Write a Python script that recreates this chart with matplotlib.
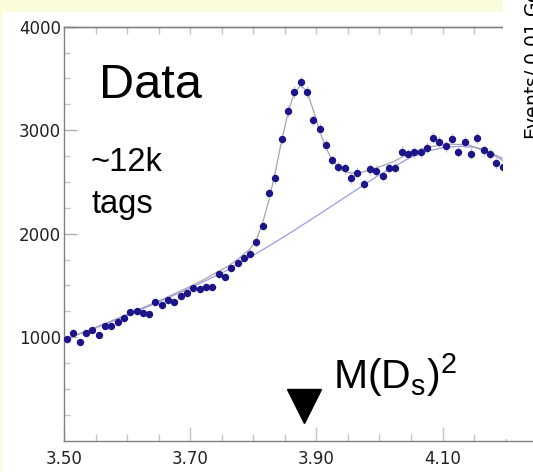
import matplotlib.pyplot as plt
import numpy as np
from matplotlib.patches import Rectangle

# binned M(Ds)^2 spectrum, 0.01 GeV^2 bins starting at 3.50
mass_lo = 3.50
bin_width = 0.01
counts = [980, 1043, 954, 1038, 1070, 1024, 1108, 1111, 1144, 1186,
          1240, 1250, 1231, 1221, 1340, 1308, 1362, 1343, 1401, 1427,
          1472, 1463, 1488, 1485, 1608, 1585, 1669, 1720, 1768, 1807,
          1917, 2077, 2396, 2535, 2918, 3183, 3369, 3466, 3366, 3096,
          3014, 2860, 2712, 2647, 2632, 2535, 2589, 2480, 2622, 2609,
          2560, 2638, 2638, 2792, 2770, 2786, 2789, 2831, 2928, 2886,
          2847, 2918, 2792, 2886, 2773, 2925, 2806, 2773, 2680, 2647]

# total fit (signal + background)
fit_mass = [3.50, 3.55, 3.60, 3.65, 3.70, 3.72, 3.74, 3.76, 3.78, 3.795,
            3.805, 3.815, 3.825, 3.835, 3.845, 3.855, 3.865, 3.875, 3.885,
            3.895, 3.905, 3.915, 3.925, 3.935, 3.945, 3.955, 3.97, 3.99,
            4.02, 4.05, 4.08, 4.11, 4.14, 4.17, 4.20]
fit_total = [975, 1095, 1220, 1350, 1490, 1550, 1620, 1685, 1775, 1855,
             1940, 2110, 2330, 2600, 2900, 3170, 3360, 3435, 3375,
             3195, 2995, 2830, 2710, 2640, 2600, 2585, 2590, 2625,
             2690, 2785, 2840, 2865, 2860, 2800, 2715]

# background component
bkg_mass = [3.50, 3.55, 3.60, 3.65, 3.70, 3.75, 3.80, 3.85, 3.90, 3.95,
            4.00, 4.05, 4.075, 4.10, 4.125, 4.15, 4.175, 4.20]
bkg = [975, 1090, 1210, 1340, 1475, 1620, 1790, 1975, 2170, 2370,
       2570, 2740, 2795, 2830, 2845, 2835, 2780, 2690]

xtick_vals = [3.50, 3.70, 3.90, 4.10]
xtick_labels = ['3.50', '3.70', '3.90', '4.10']
ytick_vals = [1000, 2000, 3000, 4000]
ytick_labels = ['1000', '2000', '3000', '4000']

ds_mass = 3.88

centers = mass_lo + bin_width * (np.arange(len(counts)) + 0.5)
counts = np.array(counts)

W, H = 533, 472
def fx(px):
    return px / W
def fy(py):
    return 1 - py / H

fig = plt.figure(figsize=(W / 100, H / 100), dpi=100, facecolor='#fafcdc')

# white page behind the plot
fig.add_artist(Rectangle((fx(3), 0), 1, fy(12), transform=fig.transFigure,
                         facecolor='white', edgecolor='none', zorder=-1))

ax = fig.add_axes([fx(64), fy(440.7), fx(533 - 64), (440.7 - 26.7) / H])
ax.set_facecolor('white')

ax.plot(bkg_mass, bkg, color='#9c9ce0', lw=0.9, zorder=2)
ax.plot(fit_mass, fit_total, color='#a4a4b0', lw=0.9, zorder=2)
ax.errorbar(centers, counts, yerr=np.sqrt(counts), fmt='o', ms=4.3,
            color='#1c1488', ecolor='#c4c4ee', elinewidth=1, capsize=0,
            zorder=3)

# marker for the Ds mass squared
ax.plot([ds_mass], [340], marker='v', ms=25, color='black', ls='none',
        zorder=4, clip_on=False)

ax.set_xlim(3.50, 3.50 + 469 / 631)
ax.set_ylim(0, 4000)
ax.set_xticks(xtick_vals)
ax.set_xticklabels(xtick_labels)
ax.set_xticks(np.arange(3.55, 4.21, 0.05), minor=True)
ax.set_yticks(ytick_vals)
ax.set_yticklabels(ytick_labels)
ax.set_yticks(np.arange(250, 4000, 250), minor=True)

for lab in ax.get_xticklabels() + ax.get_yticklabels():
    lab.set_fontfamily('DejaVu Sans')
    lab.set_fontsize(12)
    lab.set_color('#222222')

ax.tick_params(axis='x', which='major', direction='in', length=10, width=1,
               color='#c4c4c4', pad=7)
ax.tick_params(axis='x', which='minor', direction='in', length=5, width=1,
               color='#c4c4c4')
ax.tick_params(axis='y', which='major', direction='in', length=9, width=1,
               color='#b0b0b0', pad=2)
ax.tick_params(axis='y', which='minor', direction='in', length=4.5, width=1,
               color='#c4c4c4')

top = ax.secondary_xaxis('top')
top.set_xticks(np.arange(3.55, 4.21, 0.05))
top.tick_params(direction='in', length=5, width=1, color='#c4c4c4',
                labeltop=False)
top.spines['top'].set_color('#808088')
top.spines['top'].set_linewidth(1)

for side in ['left', 'bottom', 'top']:
    ax.spines[side].set_color('#808088')
    ax.spines[side].set_linewidth(1)
ax.spines['right'].set_visible(False)

# annotations
big = 'Liberation Sans'
fig.text(fx(99), fy(98), 'Data', family=big, fontsize=35, va='baseline')
fig.text(fx(91), fy(171), '~12k', family=big, fontsize=23.5, va='baseline')
fig.text(fx(91), fy(213), 'tags', family=big, fontsize=23.5, va='baseline')
fig.text(fx(333), fy(389), r'M(D$\mathregular{_s}$)$\mathregular{^2}$',
         family=big, fontsize=29.5, va='baseline')

# panel edge with the neighbouring axis title
fig.add_artist(Rectangle((fx(503), fy(439)), 1, 1, transform=fig.transFigure,
                         facecolor='white', edgecolor='none', zorder=5))
fig.text(fx(520), fy(140), r'Events/ 0.01 GeV$\mathregular{^2}$',
         family='DejaVu Sans', fontsize=13.5, rotation=90, ha='left',
         va='bottom', zorder=6)

fig.savefig('out.png', dpi=100, facecolor=fig.get_facecolor())
